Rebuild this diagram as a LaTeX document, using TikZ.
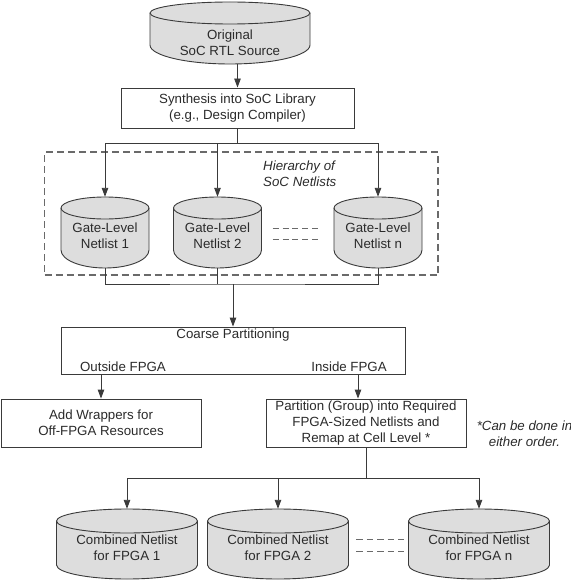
\documentclass[tikz,border=0pt]{standalone}
\usepackage{fontspec}
\setmainfont{Liberation Sans}
\usetikzlibrary{arrows.meta,calc}
\definecolor{lnc}{HTML}{3A3A3A}
\definecolor{fillc}{HTML}{DDDDDD}
\definecolor{txtc}{HTML}{2B2B2B}
\definecolor{dashc}{HTML}{6A6A6A}
\tikzset{
 line/.style={draw=lnc, line width=0.9pt},
 arr/.style={line, -{Triangle[length=9pt,width=6.5pt]}},
 txt/.style={text=txtc, font=\fontsize{13.3}{15.7}\selectfont, align=center, inner sep=0pt},
 itxt/.style={txt, font=\fontsize{13.3}{15.7}\selectfont\itshape},
 procbox/.style={line, fill=white, rectangle, txt},
 drumbox/.style 2 args={rectangle, inner sep=0pt, minimum width=#1, minimum height=#2},
 drumline/.style={line, fill=fillc},
 gapdash/.style={draw=dashc, line width=0.9pt, dash pattern=on 6pt off 3.8pt},
 gapdashb/.style={draw=dashc, line width=0.9pt, dash pattern=on 6.5pt off 4pt},
 hierbox/.style={draw=dashc, line width=1.1pt, dash pattern=on 7pt off 4pt, rectangle, inner sep=0pt},
}
% #1 cx, #2 half width, #3 top y, #4 top ry, #5 side bottom y, #6 bottom ry
\newcommand\drumshape[6]{%
 \path[drumline] (#1-#2,#3+#4) -- (#1-#2,#5) arc[start angle=180,end angle=0,x radius=#2,y radius=#6] -- (#1+#2,#3+#4) arc[start angle=0,end angle=-180,x radius=#2,y radius=#4] -- cycle;
 \draw[line] (#1-#2,#3+#4) arc[start angle=180,end angle=0,x radius=#2,y radius=#4];
}
\begin{document}
\begin{tikzpicture}[x=1pt,y=-1pt]
\useasboundingbox (0,0) rectangle (570,583);
% hierarchy frame
\node[hierbox, minimum width=393.5pt, minimum height=123pt] (hier) at (241.25,213.5) {};
\node[itxt, anchor=west, align=left] (hiert) at (263,174) {Hierarchy of\\SoC Netlists};
% drums
\drumshape{230}{80}{2}{11}{45}{19}
\node[drumbox={160pt}{62pt}, label={[txt,yshift=-10pt]center:{Original\\SoC RTL Source}}] (src) at (230,33) {};
\drumshape{105}{44}{197}{11}{250}{18}
\drumshape{217.5}{44}{197}{11}{250}{18}
\drumshape{378}{44}{197}{11}{250}{18}
\node[drumbox={88pt}{71pt}, label={[txt,yshift=-3.5pt]center:{Gate-Level\\Netlist 1}}] (g1) at (105,232.5) {};
\node[drumbox={88pt}{71pt}, label={[txt,yshift=-3.5pt]center:{Gate-Level\\Netlist 2}}] (g2) at (217.5,232.5) {};
\node[drumbox={88pt}{71pt}, label={[txt,yshift=-3.5pt]center:{Gate-Level\\Netlist n}}] (gn) at (378,232.5) {};
\drumshape{127}{70.5}{509}{12}{565}{14}
\drumshape{278}{70.5}{509}{12}{565}{14}
\drumshape{479}{70.5}{509}{12}{565}{14}
\node[drumbox={141pt}{70pt}, label={[txt,yshift=-3.5pt]center:{Combined Netlist\\for FPGA 1}}] (c1) at (127,544) {};
\node[drumbox={141pt}{70pt}, label={[txt,yshift=-3.5pt]center:{Combined Netlist\\for FPGA 2}}] (c2) at (278,544) {};
\node[drumbox={141pt}{70pt}, label={[txt,yshift=-3.5pt]center:{Combined Netlist\\for FPGA n}}] (cn) at (479,544) {};
% boxes
\node[procbox, minimum width=233pt, minimum height=40pt] (synth) at (237.5,108) {Synthesis into SoC Library\\(e.g., Design Compiler)};
\node[procbox, minimum width=344pt, minimum height=47pt] (coarse) at (233,350.5) {};
\node[txt] (cpt) at (233,335) {Coarse Partitioning};
\node[txt] (outl) at (123,367) {Outside FPGA};
\node[txt] (inl) at (349,367) {Inside FPGA};
\node[procbox, minimum width=200pt, minimum height=48pt] (wrap) at (101,423) {Add Wrappers for\\Off-FPGA Resources};
\node[procbox, minimum width=200pt, minimum height=48pt] (part) at (366,423) {Partition (Group) into Required\\FPGA-Sized Netlists and\\Remap at Cell Level *};
\node[itxt] (note) at (524.5,434) {*Can be done in\\either order.};
% connectors
\draw[arr] (synth.north |- src.south) -- (synth.north);
\coordinate (bus1) at (synth.south |- 0,143);
\draw[line] (synth.south) -- (bus1);
\draw[arr] (bus1) -| (g1.north);
\draw[arr] (bus1) -| (gn.north);
\draw[arr] (g2.north |- bus1) -- (g2.north);
\coordinate (bus2) at (coarse.north |- 0,284);
\draw[line] (g1.south) |- (bus2) -| (gn.south);
\draw[line] (g2.south) -- (g2.south |- bus2);
\draw[arr] (bus2) -- (coarse.north);
\draw[arr] (wrap.north |- coarse.south) -- (wrap.north);
\coordinate (pin) at ([xshift=-8pt]part.north);
\draw[arr] (pin |- coarse.south) -- (pin);
\coordinate (bus3) at (part.south |- 0,478);
\draw[line] (part.south) -- (bus3);
\draw[arr] (bus3) -| (c1.north);
\draw[arr] (bus3) -| (cn.north);
\draw[arr] (c2.north |- bus3) -- (c2.north);
% ellipsis dashes
\draw[gapdash] ([xshift=11pt,yshift=4.5pt]g2.east) -- ([xshift=-16pt,yshift=4.5pt]gn.west);
\draw[gapdash] ([xshift=11pt,yshift=-6.5pt]g2.east) -- ([xshift=-16pt,yshift=-6.5pt]gn.west);
\draw[gapdashb] ([xshift=7.5pt,yshift=5pt]c2.east) -- ([xshift=-4pt,yshift=5pt]cn.west);
\draw[gapdashb] ([xshift=7.5pt,yshift=-7pt]c2.east) -- ([xshift=-4pt,yshift=-7pt]cn.west);
\end{tikzpicture}
\end{document}
